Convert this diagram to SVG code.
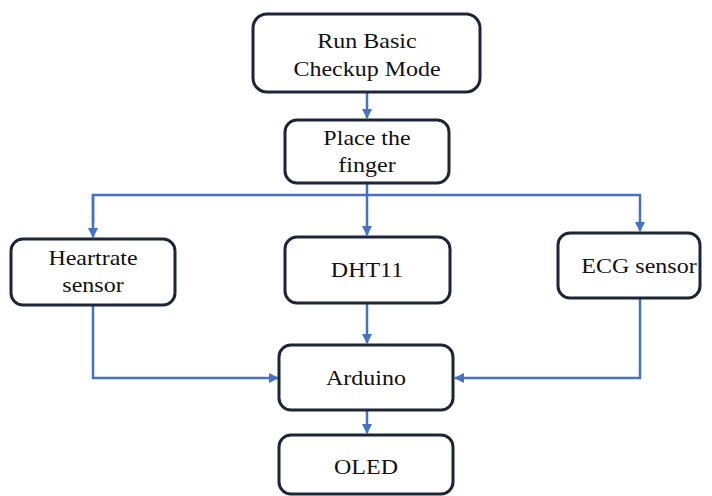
<svg xmlns="http://www.w3.org/2000/svg" width="712" height="496" viewBox="0 0 712 496">
<defs>
<style>
.box{fill:#fff;stroke:#1c2636;stroke-width:3}
.t{font-family:'Liberation Serif','Times New Roman',serif;font-size:20px;fill:#111;text-anchor:middle}
.c{fill:none;stroke:#4472C4;stroke-width:2.5}
</style>
<marker id="ah" viewBox="0 0 10 10" refX="9" refY="5" markerWidth="4" markerHeight="4" orient="auto" markerUnits="strokeWidth">
<path d="M0,0 L10,5 L0,10 z" fill="#4472C4"/>
</marker>
</defs>
<rect width="712" height="496" fill="#fff"/>
<g id="connectors">
<path class="c" d="M367,93 V118" marker-end="url(#ah)"/>
<path class="c" d="M367,184 V235" marker-end="url(#ah)"/>
<path class="c" d="M93,223 V195 H640 V231" marker-end="url(#ah)"/>
<path class="c" d="M93,195 V237" marker-end="url(#ah)"/>
<path class="c" d="M367,304 V343" marker-end="url(#ah)"/>
<path class="c" d="M93,306 V378 H278" marker-end="url(#ah)"/>
<path class="c" d="M640,299 V378 H455" marker-end="url(#ah)"/>
<path class="c" d="M367,411 V433" marker-end="url(#ah)"/>
</g>
<g id="run">
<rect class="box" x="253" y="14" width="227" height="78" rx="14"/>
<text class="t" transform="translate(367,48) scale(1.2,1)">Run Basic</text>
<text class="t" transform="translate(367,76) scale(1.2,1)">Checkup Mode</text>
</g>
<g id="place">
<rect class="box" x="285" y="120" width="164" height="63" rx="12"/>
<text class="t" transform="translate(367,145) scale(1.2,1)">Place the</text>
<text class="t" transform="translate(367,172) scale(1.2,1)">finger</text>
</g>
<g id="heart">
<rect class="box" x="11" y="239" width="164" height="66" rx="12"/>
<text class="t" transform="translate(93,265) scale(1.2,1)">Heartrate</text>
<text class="t" transform="translate(93,292) scale(1.2,1)">sensor</text>
</g>
<g id="dht">
<rect class="box" x="285" y="237" width="165" height="66" rx="12"/>
<text class="t" transform="translate(367,277) scale(1.2,1)">DHT11</text>
</g>
<g id="ecg">
<rect class="box" x="558" y="233" width="142" height="65" rx="12"/>
<text class="t" transform="translate(639,273) scale(1.2,1)">ECG sensor</text>
</g>
<g id="arduino">
<rect class="box" x="279" y="345" width="174" height="65" rx="12"/>
<text class="t" transform="translate(366,385) scale(1.2,1)">Arduino</text>
</g>
<g id="oled">
<rect class="box" x="279" y="435" width="174" height="59" rx="12"/>
<text class="t" transform="translate(366,474) scale(1.2,1)">OLED</text>
</g>
</svg>
